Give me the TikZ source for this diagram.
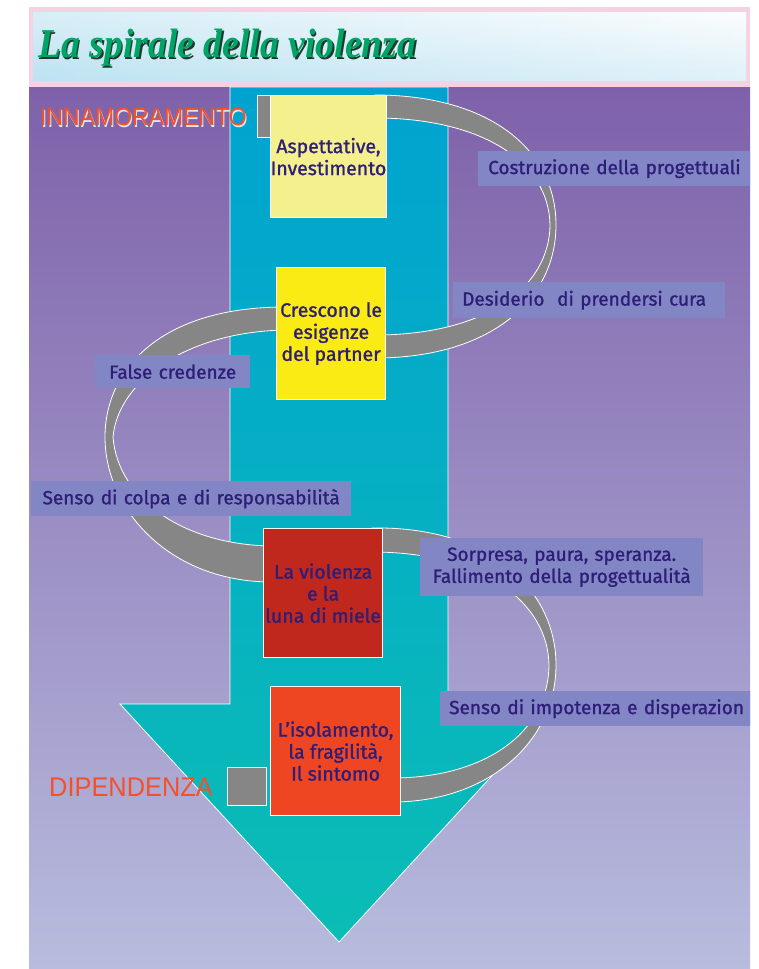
\documentclass[tikz,border=0pt]{standalone}
\usepackage{fontspec}
\setmainfont{Fira Sans}
\newfontfamily\heavyfont[FakeBold=1.2]{Fira Sans}
\newfontfamily\arialfont{Liberation Sans}
\newfontfamily\titlefont{Liberation Serif}
\definecolor{pinkframe}{HTML}{F4D2E2}
\definecolor{titlelo}{HTML}{BDE3F2}
\definecolor{titlehi}{HTML}{FBFDFE}
\definecolor{purptop}{HTML}{7E61AA}
\definecolor{purpbot}{HTML}{B8BCDE}
\definecolor{arrowtop}{HTML}{00A3D0}
\definecolor{arrowbot}{HTML}{0BBDB5}
\definecolor{bandgrey}{HTML}{868686}
\definecolor{lblfill}{HTML}{8386C4}
\definecolor{txtblue}{HTML}{2E1E78}
\definecolor{box1}{HTML}{F4F08E}
\definecolor{box2}{HTML}{FAEB14}
\definecolor{box3}{HTML}{C0281E}
\definecolor{box4}{HTML}{EE4623}
\definecolor{redtxt}{HTML}{F4502C}
\definecolor{titlegreen}{HTML}{00A466}
\definecolor{titleshadow}{HTML}{1E3A2C}
\tikzset{
  band/.style={fill=bandgrey, draw=white, line width=0.8pt},
  stagebox/.style={draw=white, line width=1.2pt, anchor=north west, inner sep=0pt,
    align=center, text=txtblue, font=\heavyfont\fontsize{19.5}{22}\selectfont},
  endsquare/.style={fill=bandgrey, draw=white, line width=1pt, anchor=north west, inner sep=0pt},
  lbl/.style={fill=lblfill, anchor=north west, inner ysep=0pt, text=txtblue,
    font=\heavyfont\fontsize{19}{22}\selectfont},
}
\begin{document}
\begin{tikzpicture}[x=1pt,y=-1pt]
\useasboundingbox (0,0) rectangle (758,969);
\fill[white] (0,0) rectangle (758,969);
% title panel
\fill[pinkframe] (29,7) rectangle (750,87);
\shade[left color=titlelo, right color=titlehi] (33,12) rectangle (746,80);
\shade[top color=titlehi, bottom color=titlelo, opacity=0.45] (33,12) rectangle (746,80);
% main panel
\shade[top color=purptop, bottom color=purpbot] (29,87) rectangle (750,969);
\begin{scope}
\clip (29,87) rectangle (750,969);
% arrow
\shade[top color=arrowtop, bottom color=arrowbot, draw=white, line width=0.8pt]
  (230,87) -- (448,87) -- (448,704) -- (558,704) -- (339,942) -- (120,704) -- (230,704) -- cycle;
% spiral ribbon
\filldraw[band] (375,95) .. controls (490,95) and (556,150) .. (556,225)
  .. controls (556,300) and (490,358) .. (375,358) -- (375,335)
  .. controls (482,335) and (549,290) .. (550,225)
  .. controls (549,162) and (482,118) .. (375,118) -- cycle;
\filldraw[band] (285,307) .. controls (160,307) and (105,370) .. (105,437)
  .. controls (105,510) and (170,582) .. (272,582) -- (272,546)
  .. controls (185,545) and (118,500) .. (113,437)
  .. controls (118,382) and (185,332) .. (285,330) -- cycle;
\filldraw[band] (372,528) .. controls (490,526) and (556,590) .. (556,665)
  .. controls (556,740) and (490,802) .. (392,802) -- (392,778)
  .. controls (482,778) and (548,735) .. (549,665)
  .. controls (548,602) and (482,552) .. (372,552) -- cycle;
% end squares
\node[endsquare, minimum width=13pt, minimum height=42pt] (start) at (257,95) {};
\node[endsquare, minimum width=39pt, minimum height=38pt] (finish) at (227,767) {};
% stage boxes
\node[stagebox, fill=box1, minimum width=115pt, minimum height=122pt] (s1) at (270,95)
  {Aspettative,\\Investimento};
\node[stagebox, fill=box2, minimum width=109pt, minimum height=132pt] (s2) at (276,267)
  {Crescono le\\esigenze\\del partner};
\node[stagebox, fill=box3, minimum width=119pt, minimum height=129pt] (s3) at (263,528)
  {La violenza\\e la\\luna di miele};
\node[stagebox, fill=box4, minimum width=130pt, minimum height=129pt] (s4) at (270,686)
  {L’isolamento,\\la fragilità,\\Il sintomo};
% labels
\node[lbl, inner xsep=10pt, text width=280pt, align=left, minimum height=35pt] (l1) at (478,151)
  {Costruzione della progettuali};
\node[lbl, inner xsep=9pt, text width=254pt, align=left, minimum height=36pt] (l2) at (453,282)
  {Desiderio~\ di prendersi cura};
\node[lbl, inner xsep=0pt, text width=155pt, align=center, minimum height=33pt] (l3) at (95,355)
  {False credenze};
\node[lbl, inner xsep=0pt, text width=320pt, align=center, minimum height=35pt] (l4) at (31,481)
  {Senso di colpa e di responsabilità};
\node[lbl, inner xsep=0pt, text width=283pt, align=center, minimum height=58pt] (l5) at (420,538)
  {Sorpresa, paura, speranza.\\Fallimento della progettualità};
\node[lbl, inner xsep=9pt, text width=302pt, align=left, minimum height=35pt] (l6) at (440,691)
  {Senso di impotenza e disperazion};
% phase labels
\node[anchor=west, inner sep=0pt, text=white!80!gray, font=\arialfont\fontsize{25}{25}\selectfont] at (41,118.5)
  {\scalebox{0.92}[1]{INNAMORAMENTO}};
\node[anchor=west, inner sep=0pt, text=redtxt, font=\arialfont\fontsize{25}{25}\selectfont] (inn) at (40,117)
  {\scalebox{0.92}[1]{INNAMORAMENTO}};
\node[anchor=west, inner sep=0pt, text=redtxt, font=\arialfont\fontsize{27}{27}\selectfont] (dip) at (49,787)
  {\scalebox{0.94}[1]{DIPENDENZA}};
\end{scope}
% title
\node[anchor=west, inner sep=0pt, text=titleshadow, font=\titlefont\bfseries\itshape\fontsize{41}{41}\selectfont] at (39.5,49.5)
  {\scalebox{0.92}[1]{La spirale della violenza}};
\node[anchor=west, inner sep=0pt, text=titlegreen, font=\titlefont\bfseries\itshape\fontsize{41}{41}\selectfont] (title) at (38,48)
  {\scalebox{0.92}[1]{La spirale della violenza}};
\end{tikzpicture}
\end{document}
